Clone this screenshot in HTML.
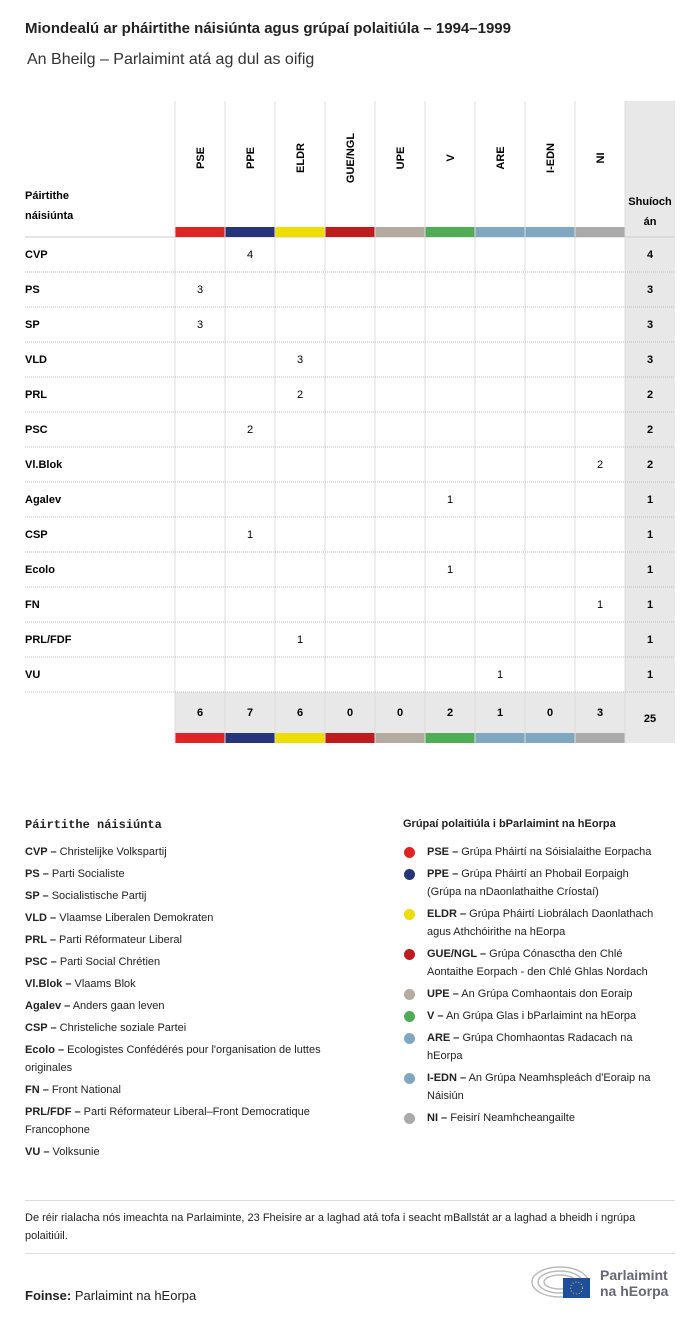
<!DOCTYPE html>
<html><head><meta charset="utf-8">
<style>
body{margin:0;background:#fff;font-family:"Liberation Sans",sans-serif;color:#222;}
#root{position:relative;width:700px;height:1321px;overflow:hidden;}
.a{position:absolute;white-space:nowrap;}
.t{font-size:11px;}
.b{font-weight:bold;}
.dot{position:absolute;width:11px;height:11px;border-radius:50%;}
</style></head><body>
<div id="root">
<div class="a b" style="left:25px;top:20px;font-size:15px;">Miondealú ar pháirtithe náisiúnta agus grúpaí polaitiúla – 1994–1999</div>
<div class="a" style="left:27px;top:51px;font-size:16px;color:#333;">An Bheilg – Parlaimint atá ag dul as oifig</div>
<svg class="a" style="left:0;top:0" width="700" height="760" id="tbl"></svg>

<div class="a b" style="left:25px;top:818px;font-size:12px;font-family:'Liberation Mono',monospace;">Páirtithe náisiúnta</div>
<div id="leftleg"></div>
<div class="a b t" style="left:403px;top:818px;">Grúpaí polaitiúla i bParlaimint na hEorpa</div>
<div id="rightleg"></div>

<div class="a" style="left:25px;top:1200px;width:650px;border-top:1px solid #ddd;"></div>
<div class="a t" style="left:25px;top:1209px;line-height:18px;white-space:normal;width:650px;">De réir rialacha nós imeachta na Parlaiminte, 23 Fheisire ar a laghad atá tofa i seacht mBallstát ar a laghad a bheidh i ngrúpa polaitiúil.</div>
<div class="a" style="left:25px;top:1253px;width:650px;border-top:1px solid #ddd;"></div>
<div class="a" style="left:25px;top:1288px;font-size:13px;"><b>Foinse:</b> Parlaimint na hEorpa</div>
<div class="a" style="left:530px;top:1264px;">
<svg width="60" height="36"><g fill="none" stroke="#bbb" stroke-width="1.5"><ellipse cx="30" cy="18" rx="28" ry="15"/><ellipse cx="30" cy="18" rx="22" ry="11"/><ellipse cx="30" cy="18" rx="16" ry="7"/></g><rect x="33" y="14" width="27" height="20" fill="#1f4e9c"/><circle cx="46.5" cy="24" r="6" fill="none" stroke="#fc0" stroke-dasharray="1 2"/></svg>
<div class="a b" style="left:70px;top:3px;font-size:14px;color:#667;line-height:16px;">Parlaimint<br>na hEorpa</div>
</div>
</div>
<script>
const groups=["PSE","PPE","ELDR","GUE/NGL","UPE","V","ARE","I-EDN","NI"];
const colors=["#e02424","#263479","#eedd00","#c01c20","#b3aba0","#4fad55","#7fa7c0","#7fa7c0","#aaaaaa"];
const parties=["CVP","PS","SP","VLD","PRL","PSC","Vl.Blok","Agalev","CSP","Ecolo","FN","PRL/FDF","VU"];
const partyGroup=[1,0,0,2,2,1,8,5,1,5,8,2,6];
const partySeats=[4,3,3,3,2,2,2,1,1,1,1,1,1];
const ns="http://www.w3.org/2000/svg";
const svg=document.getElementById('tbl');
const x0=175,cw=50,rowH=35,tableTop=237;
function colX(i){return x0+i*cw;}
function rowY(r){return tableTop+r*rowH;}
function el(tag,at,txt){const e=document.createElementNS(ns,tag);for(const k in at)e.setAttribute(k,at[k]);if(txt!=null)e.textContent=txt;svg.appendChild(e);return e;}
const totalsY=rowY(parties.length);
let e=el('rect',{x:625,y:101,width:50,height:totalsY+51-101,fill:'#e8e8e8'});


e=el('rect',{x:x0,y:totalsY,width:450,height:41,fill:'#e8e8e8'});


for(let i=0;i<=9;i++){el('line',{x1:colX(i),x2:colX(i),y1:101,y2:totalsY+51,stroke:'#ddd','stroke-width':1});}
el('line',{x1:25,x2:675,y1:tableTop,y2:tableTop,stroke:'#ccc'});
for(let r=1;r<=parties.length;r++){el('line',{x1:25,x2:675,y1:rowY(r),y2:rowY(r),stroke:'#bbb','stroke-dasharray':'1 1'});}
groups.forEach((g,i)=>{
 const cx=colX(i)+cw/2;
 let t=el('text',{x:0,y:0,transform:`translate(${cx+4},158) rotate(-90)`,'font-size':11,'font-weight':'bold','text-anchor':'middle'},g);
 
 
 let b=el('rect',{x:colX(i)+0.5,y:227,width:cw-1,height:10,fill:colors[i]});
 
 
 let b2=el('rect',{x:colX(i)+0.5,y:totalsY+41,width:cw-1,height:10,fill:colors[i]});
 
 
 let tot=0;partyGroup.forEach((pg,p)=>{if(pg===i)tot+=partySeats[p];});
 let tt=el('text',{x:cx,y:totalsY+24,'font-size':11,'font-weight':'bold','text-anchor':'middle'},tot);
 
 
});
el('text',{x:25,y:199,'font-size':11,'font-weight':'bold'},'Páirtithe');
el('text',{x:25,y:219,'font-size':11,'font-weight':'bold'},'náisiúnta');
el('text',{x:650,y:205,'font-size':11,'font-weight':'bold','text-anchor':'middle'},'Shuíoch');
el('text',{x:650,y:225,'font-size':11,'font-weight':'bold','text-anchor':'middle'},'án');
let grand=0;
parties.forEach((p,r)=>{
 const y=rowY(r)+21;
 let l=el('text',{x:25,y:y,'font-size':11,'font-weight':'bold'},p);
 
 
 let v=el('text',{x:colX(partyGroup[r])+cw/2,y:y,'font-size':11,'text-anchor':'middle'},partySeats[r]);
 
 
 let s=el('text',{x:650,y:y,'font-size':11,'font-weight':'bold','text-anchor':'middle'},partySeats[r]);
 
 
 grand+=partySeats[r];
});
e=el('text',{x:650,y:totalsY+30,'font-size':11,'font-weight':'bold','text-anchor':'middle'},grand);



const leftItems=[["CVP","Christelijke Volkspartij"],["PS","Parti Socialiste"],["SP","Socialistische Partij"],["VLD","Vlaamse Liberalen Demokraten"],["PRL","Parti Réformateur Liberal"],["PSC","Parti Social Chrétien"],["Vl.Blok","Vlaams Blok"],["Agalev","Anders gaan leven"],["CSP","Christeliche soziale Partei"],["Ecolo","Ecologistes Confédérés pour l'organisation de luttes<br>originales"],["FN","Front National"],["PRL/FDF","Parti Réformateur Liberal–Front Democratique<br>Francophone"],["VU","Volksunie"]];
const leftTops=[843,865,887,909,931,953,975,997,1019,1041,1081,1103,1143];
const L=document.getElementById('leftleg');
leftItems.forEach((it,i)=>{const d=document.createElement('div');d.className='a t';d.style.left='25px';d.style.top=leftTops[i]+'px';d.style.lineHeight='18px';d.innerHTML='<b>'+it[0]+' –</b> '+it[1];


L.appendChild(d);});
const rightItems=[["PSE","Grúpa Pháirtí na Sóisialaithe Eorpacha"],["PPE","Grúpa Pháirtí an Phobail Eorpaigh<br>(Grúpa na nDaonlathaithe Críostaí)"],["ELDR","Grúpa Pháirtí Liobrálach Daonlathach<br>agus Athchóirithe na hEorpa"],["GUE/NGL","Grúpa Cónasctha den Chlé<br>Aontaithe Eorpach - den Chlé Ghlas Nordach"],["UPE","An Grúpa Comhaontais don Eoraip"],["V","An Grúpa Glas i bParlaimint na hEorpa"],["ARE","Grúpa Chomhaontas Radacach na<br>hEorpa"],["I-EDN","An Grúpa Neamhspleách d'Eoraip na<br>Náisiún"],["NI","Feisirí Neamhcheangailte"]];
const rightTops=[843,865,905,945,985,1007,1029,1069,1109];
const R=document.getElementById('rightleg');
rightItems.forEach((it,i)=>{const dot=document.createElement('div');dot.className='dot';dot.style.left='404px';dot.style.top=(rightTops[i]+4)+'px';dot.style.background=colors[i];R.appendChild(dot);


const d=document.createElement('div');d.className='a t';d.style.left='427px';d.style.top=rightTops[i]+'px';d.style.lineHeight='18px';d.innerHTML='<b>'+it[0]+' –</b> '+it[1];


R.appendChild(d);});
</script>
</body></html>
